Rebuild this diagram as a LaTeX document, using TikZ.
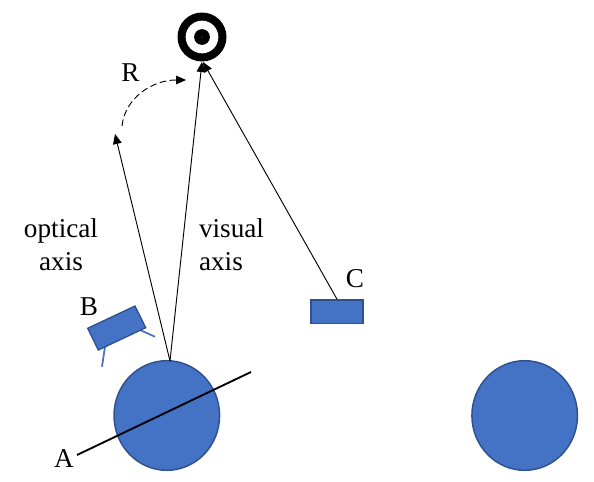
\documentclass[tikz,border=0pt]{standalone}
\usepackage{fontspec}
\setmainfont{Liberation Serif}
\usetikzlibrary{arrows.meta,shapes.geometric}
\definecolor{bluefill}{HTML}{4472C4}
\definecolor{blueedge}{HTML}{2F528F}
\definecolor{legblue}{HTML}{4472C4}
\begin{document}
\begin{tikzpicture}[x=0.75pt,y=-0.75pt,
  eye/.style={ellipse,draw=blueedge,fill=bluefill,line width=1.1pt,minimum width=79.2pt,minimum height=82.2pt,inner sep=0pt},
  box/.style={draw=blueedge,fill=bluefill,line width=1pt,inner sep=0pt},
  lbl/.style={font=\fontsize{20.4pt}{25.1pt}\selectfont,inner sep=0pt},
  axis/.style={draw=black,line width=0.7pt,-{Triangle[length=7.5pt,width=6.5pt]}},
  leg/.style={draw=legblue,line width=1.3pt}]
\useasboundingbox (0,0) rectangle (594,482);
% eyes
\node[eye] (left) at (166.8,415.5) {};
\node[eye] (right) at (524.7,415.5) {};
% target
\node[circle,fill=black,minimum size=36.75pt,inner sep=0pt] (target) at (202,37) {};
\node[circle,fill=white,minimum size=24.5pt,inner sep=0pt] at (target) {};
\node[circle,fill=black,minimum size=11.8pt,inner sep=0pt] at (target) {};
\node[circle,fill=green!70!black,minimum size=0.8pt,inner sep=0pt] at (target) {};
% camera B
\coordinate (legAa) at (105,346.7);
\coordinate (legAb) at (102,366.7);
\coordinate (legBa) at (140,330);
\coordinate (legBb) at (155,336.7);
\draw[leg] (legAa) -- (legAb);
\draw[leg] (legBa) -- (legBb);
\draw[box] (87.7,328.3) -- (135,306) -- (145.7,327.7) -- (98.3,350) -- cycle;
% C box
\node[box,minimum width=39pt,minimum height=17.5pt] (cbox) at (337,311.5) {};
% connectors
\coordinate (origin) at (170,361);
\coordinate (opt) at (115,134);
\coordinate (vis) at (202,62);
\coordinate (vis2) at (203,62);
\coordinate (lineA) at (77,455);
\coordinate (lineB) at (251,372);
\coordinate (rs) at (122,126);
\coordinate (re) at (186,80);
\draw[axis] (origin) -- (opt);
\draw[axis] (origin) -- (vis);
\draw[axis] (cbox.north) -- (vis2);
\draw[black,line width=1.4pt] (lineA) -- (lineB);
\draw[black,line width=0.7pt,dash pattern=on 5pt off 2.6pt,-{Triangle[length=7.5pt,width=6.5pt]}]
  (rs) .. controls (125,98) and (152,80) .. (re);
% labels
\node[lbl] (tR) at (130.5,73) {R};
\node[lbl,align=center] (tOpt) at (61,244.5) {optical\\axis};
\node[lbl,align=left] (tVis) at (231.5,244.5) {visual\\axis};
\node[lbl] (tB) at (89,307) {B};
\node[lbl] (tC) at (355,279) {C};
\node[lbl] (tA) at (64,459) {A};
\end{tikzpicture}
\end{document}
